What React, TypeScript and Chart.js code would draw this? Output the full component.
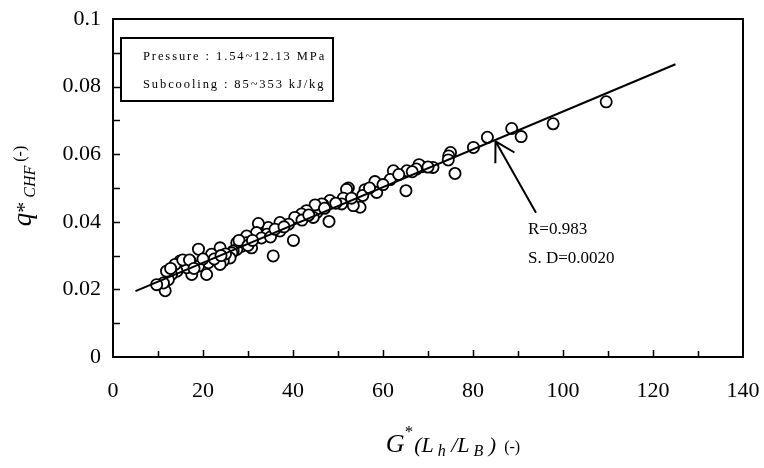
import React, { useEffect, useRef } from 'react';
import { Chart, registerables } from 'chart.js';

Chart.register(...registerables);

// ---- data ----
const gStar: number[] = [
  109.6, 97.8, 90.7, 88.6, 83.2, 80.1, 76.0, 75.0, 74.6, 74.5,
  71.1, 68.6, 68.0, 67.4, 65.3, 65.1, 62.3, 61.6, 58.2, 58.6,
  56.0, 54.9, 53.4, 52.3, 51.9, 51.2, 50.8, 48.2, 48.0, 46.7,
  46.4, 45.3, 44.9, 44.5, 43.0, 41.9, 40.4, 40.1, 39.0, 37.1,
  37.1, 35.6, 34.5, 34.2, 32.3, 31.9, 30.8, 29.7, 29.7, 28.6,
  27.5, 27.5, 26.7, 26.4, 26.0, 24.5, 23.8, 23.8, 21.9, 21.2,
  20.8, 19.0, 19.0, 17.5, 17.1, 16.4, 14.9, 14.2, 13.8, 13.0,
  12.3, 11.9, 11.6, 11.2, 9.7, 15.5, 17.0, 22.5, 25.0, 28.0,
  30.0, 33.0, 35.0, 36.0, 38.0, 42.0, 43.5, 47.0, 49.5, 53.0,
  55.5, 57.0, 60.0, 63.5, 66.5, 70.0, 12.8, 18.0, 20.0, 24.0,
  31.0,
];
const qStar: number[] = [
  0.0755, 0.0690, 0.0652, 0.0676, 0.0650, 0.0620, 0.0543, 0.0605, 0.0595, 0.0583,
  0.0561, 0.0563, 0.0569, 0.0556, 0.0551, 0.0492, 0.0551, 0.0525, 0.0519, 0.0487,
  0.0495, 0.0443, 0.0448, 0.0500, 0.0496, 0.0470, 0.0453, 0.0463, 0.0401, 0.0450,
  0.0453, 0.0428, 0.0450, 0.0413, 0.0433, 0.0423, 0.0413, 0.0345, 0.0393, 0.0398,
  0.0373, 0.0299, 0.0383, 0.0363, 0.0395, 0.0368, 0.0323, 0.0358, 0.0338, 0.0328,
  0.0338, 0.0318, 0.0313, 0.0308, 0.0293, 0.0284, 0.0323, 0.0274, 0.0304, 0.0279,
  0.0244, 0.0319, 0.0269, 0.0244, 0.0284, 0.0264, 0.0284, 0.0254, 0.0274, 0.0244,
  0.0229, 0.0254, 0.0196, 0.0219, 0.0214, 0.0287, 0.0287, 0.0290, 0.0305, 0.0345,
  0.0330, 0.0352, 0.0355, 0.0378, 0.0385, 0.0405, 0.0420, 0.0440, 0.0455, 0.0470,
  0.0478, 0.0500, 0.0510, 0.0540, 0.0548, 0.0562, 0.0262, 0.0262, 0.0290, 0.0300,
  0.0345,
];
const fitX: number[] = [5, 125];
const fitY: number[] = [0.0195, 0.0866];
const xTicks: number[] = [0, 20, 40, 60, 80, 100, 120, 140];
const yTicks: number[] = [0, 0.02, 0.04, 0.06, 0.08, 0.1];
const xMinorStep = 10;
const yMinorStep = 0.01;
const legendLines: string[] = ['Pressure : 1.54~12.13 MPa', 'Subcooling : 85~353 kJ/kg'];
const statLines: string[] = ['R=0.983', 'S. D=0.0020'];
const arrowTip: number[] = [85, 0.0638];
const arrowTail: number[] = [94, 0.0427];

const FONT = '"Liberation Serif", "Times New Roman", serif';

type Run = { t: string; font: string; dy?: number; gap?: number };

function drawRuns(ctx: CanvasRenderingContext2D, runs: Run[], x: number, y: number) {
  let total = 0;
  for (const r of runs) {
    ctx.font = r.font;
    total += ctx.measureText(r.t).width + (r.gap || 0);
  }
  let cx = x - total / 2;
  for (const r of runs) {
    ctx.font = r.font;
    ctx.fillText(r.t, cx, y + (r.dy || 0));
    cx += ctx.measureText(r.t).width + (r.gap || 0);
  }
}

function drawSpaced(ctx: CanvasRenderingContext2D, text: string, x: number, y: number, spacing: number) {
  let cx = x;
  for (const ch of text) {
    ctx.fillText(ch, cx, y);
    cx += ctx.measureText(ch).width + spacing;
  }
}

const framePlugin = {
  id: 'framePlugin',
  beforeDatasetsDraw(chart: any) {
    const { ctx, chartArea } = chart;
    const xs = chart.scales.x;
    const ys = chart.scales.y;
    ctx.save();
    ctx.strokeStyle = '#000';
    ctx.lineWidth = 2;
    ctx.strokeRect(chartArea.left, chartArea.top, chartArea.right - chartArea.left, chartArea.bottom - chartArea.top);
    ctx.lineWidth = 1.5;
    ctx.beginPath();
    for (let v = xMinorStep; v < 140; v += xMinorStep) {
      const px = Math.round(xs.getPixelForValue(v)) + 0.5;
      const len = v % 20 === 0 ? 7 : 6;
      ctx.moveTo(px, chartArea.bottom);
      ctx.lineTo(px, chartArea.bottom - len);
    }
    for (let i = 1; i < 10; i++) {
      const py = Math.round(ys.getPixelForValue(i * yMinorStep)) + 0.5;
      ctx.moveTo(chartArea.left, py);
      ctx.lineTo(chartArea.left + 7, py);
    }
    ctx.stroke();
    ctx.restore();
  },
  afterDraw(chart: any) {
    const { ctx, chartArea } = chart;
    const xs = chart.scales.x;
    const ys = chart.scales.y;
    ctx.save();
    ctx.fillStyle = '#000';
    ctx.strokeStyle = '#000';
    ctx.textBaseline = 'alphabetic';

    // legend box
    ctx.lineWidth = 2;
    ctx.strokeRect(chartArea.left + 8, chartArea.top + 19, 212, 63);
    ctx.font = `12.5px ${FONT}`;
    drawSpaced(ctx, legendLines[0], chartArea.left + 30, chartArea.top + 41, 1.9);
    drawSpaced(ctx, legendLines[1], chartArea.left + 30, chartArea.top + 69, 1.9);

    // arrow
    const tx = xs.getPixelForValue(arrowTip[0]);
    const ty = ys.getPixelForValue(arrowTip[1]);
    const sx = xs.getPixelForValue(arrowTail[0]);
    const sy = ys.getPixelForValue(arrowTail[1]);
    const ang = Math.atan2(sy - ty, sx - tx);
    const L = 22;
    const a = Math.PI / 6;
    ctx.lineWidth = 2;
    ctx.beginPath();
    ctx.moveTo(sx, sy);
    ctx.lineTo(tx, ty);
    ctx.moveTo(tx + L * Math.cos(ang + a), ty + L * Math.sin(ang + a));
    ctx.lineTo(tx, ty);
    ctx.lineTo(tx + L * Math.cos(ang - a), ty + L * Math.sin(ang - a));
    ctx.stroke();

    // stats text
    ctx.font = `17px ${FONT}`;
    ctx.textAlign = 'left';
    ctx.fillText(statLines[0], sx - 8, sy + 21);
    ctx.fillText(statLines[1], sx - 8, sy + 50);

    // x title
    const xc = (chartArea.left + chartArea.right) / 2 + 25;
    drawRuns(ctx, [
      { t: 'G', font: `italic 26px ${FONT}` },
      { t: '*', font: `17px ${FONT}`, dy: -15, gap: 1 },
      { t: '(L', font: `italic 22px ${FONT}` },
      { t: ' h', font: `italic 16px ${FONT}`, dy: 4 },
      { t: ' /L', font: `italic 22px ${FONT}` },
      { t: ' B', font: `italic 16px ${FONT}`, dy: 4 },
      { t: ' )', font: `italic 22px ${FONT}` },
      { t: '  (-)', font: `16px ${FONT}` },
    ], xc, 452);

    // y title
    ctx.translate(31, 186);
    ctx.rotate(-Math.PI / 2);
    drawRuns(ctx, [
      { t: 'q', font: `italic 27px ${FONT}` },
      { t: '*', font: `22px ${FONT}` },
      { t: ' CHF', font: `italic 16px ${FONT}`, dy: 4 },
      { t: ' (-)', font: `16px ${FONT}`, dy: -6 },
    ], 0, 0);
    ctx.restore();
  },
};

export default function App() {
  const ref = useRef<HTMLCanvasElement | null>(null);
  useEffect(() => {
    if (!ref.current) return;
    const tickFont = { family: FONT, size: 22 };
    const chart = new Chart(ref.current, {
      type: 'scatter',
      data: {
        datasets: [
          {
            type: 'line',
            data: fitX.map((x, i) => ({ x, y: fitY[i] })),
            borderColor: '#000',
            borderWidth: 2,
            pointRadius: 0,
            fill: false,
            order: 0,
          } as any,
          {
            type: 'scatter',
            data: gStar.map((x, i) => ({ x, y: qStar[i] })),
            pointStyle: 'circle',
            pointRadius: 5.6,
            borderWidth: 1.8,
            borderColor: '#000',
            backgroundColor: '#fff',
            order: 1,
          },
        ],
      },
      options: {
        responsive: false,
        animation: false,
        devicePixelRatio: 1,
        layout: { padding: { left: 0, right: 21, top: 19, bottom: 0 } },
        plugins: { legend: { display: false }, tooltip: { enabled: false } },
        scales: {
          x: {
            type: 'linear',
            min: 0,
            max: 140,
            afterBuildTicks: (s: any) => { s.ticks = xTicks.map((v) => ({ value: v })); },
            afterFit: (s: any) => { s.height = 111; s.paddingLeft = 0; s.paddingRight = 0; },
            ticks: { font: tickFont, color: '#000', padding: 21, maxRotation: 0, autoSkip: false, callback: (v: any) => String(v) },
            grid: { display: false, drawTicks: false },
            border: { display: false },
          },
          y: {
            type: 'linear',
            min: 0,
            max: 0.1,
            afterBuildTicks: (s: any) => { s.ticks = yTicks.map((v) => ({ value: v })); },
            afterFit: (s: any) => { s.width = 113; s.paddingTop = 0; s.paddingBottom = 0; },
            ticks: { font: tickFont, color: '#000', padding: 12, autoSkip: false, callback: (v: any) => String(Math.round(v * 100) / 100) },
            grid: { display: false, drawTicks: false },
            border: { display: false },
          },
        },
      },
      plugins: [framePlugin],
    });
    return () => chart.destroy();
  }, []);
  return (
    <div style={{ position: 'fixed', left: 0, top: 0, width: 764, height: 468, background: '#fff' }}>
      <canvas ref={ref} width={764} height={468} style={{ display: 'block', width: 764, height: 468 }} />
    </div>
  );
}
